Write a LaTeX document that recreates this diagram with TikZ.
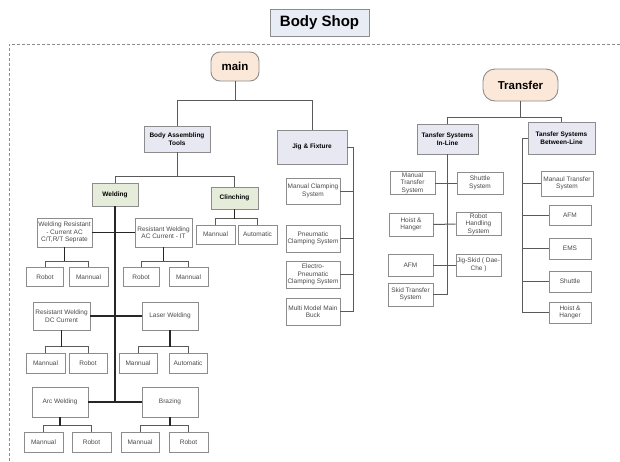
\documentclass[tikz,border=0pt]{standalone}
\usepackage{fontspec}
\setmainfont{Liberation Sans}
\definecolor{peach}{HTML}{FBE8D8}
\definecolor{lavender}{HTML}{E8E8F3}
\definecolor{sage}{HTML}{E5ECD9}
\definecolor{titlefill}{HTML}{E8ECF4}
\definecolor{boxline}{HTML}{8C8C8C}
\definecolor{linkgray}{HTML}{5A5A5A}
\definecolor{leaftext}{HTML}{4A4A4A}

\begin{document}
\begin{tikzpicture}[
    x=1pt, y=-1pt,
    every node/.style={align=center, inner sep=1pt},
    sz/.style 2 args={minimum width=#1pt, minimum height=#2pt},
    titlebox/.style={
      draw=boxline,
      line width=0.9pt,
      fill=titlefill,
      font=\fontsize{15}{17}\selectfont\bfseries
    },
    rootbox/.style={
      draw=boxline,
      line width=0.9pt,
      fill=peach,
      rounded corners=9pt,
      font=\fontsize{11.5}{13}\selectfont\bfseries
    },
    catbox/.style={
      draw=boxline,
      line width=0.8pt,
      fill=lavender,
      font=\fontsize{6.5}{7.8}\selectfont\bfseries
    },
    weldbox/.style={catbox, fill=sage},
    leafbox/.style={
      draw=boxline,
      line width=0.8pt,
      fill=white,
      text=leaftext,
      font=\fontsize{6.5}{7.5}\selectfont
    },
    link/.style={draw=linkgray, line width=1pt},
    boldlink/.style={draw=black!85, line width=1.5pt}
  ]
  \useasboundingbox (0,0) rectangle (620,461);

  % Title and frame
  \node[titlebox, sz={99}{27}] (title) at (319.5,22.5) {Body Shop};
  \draw[boxline, line width=0.8pt, dash pattern=on 3pt off 2pt]
    (9,461) -- (9,44) -- (620,44);

  % main
  \node[rootbox, sz={48}{29}] (main) at (235,66.5) {main};
  \node[catbox, sz={66}{26}] (body) at (177,139) {Body Assembling\\Tools};
  \node[catbox, sz={70}{34}] (jig) at (312,147) {Jig \& Fixture};
  \draw[link] (main.south) -- ++(0,19) coordinate (mainbus);
  \draw[link] (body.north) |- (mainbus) -| (jig.north);

  % Body Assembling Tools
  \node[weldbox, sz={46}{23}] (weld) at (115,194.5) {Welding};
  \node[weldbox, sz={47}{22}] (clinch) at (234.5,198) {Clinching};
  \draw[link] (body.south) -- ++(0,24) coordinate (bodybus);
  \draw[link] (weld.north) |- (bodybus) -| (clinch.north);

  % Welding
  \node[leafbox, sz={55}{29}] (wr) at (64.5,232.5) {Welding Resistant\\- Current AC\\C/T,R/T Seprate};
  \node[leafbox, sz={57}{29}] (rwac) at (163.5,232.5) {Resistant Welding\\AC Current - IT};
  \node[leafbox, sz={57}{28}] (rwdc) at (61.5,316) {Resistant Welding\\DC Current};
  \node[leafbox, sz={56}{28}] (laser) at (170,316) {Laser Welding};
  \node[leafbox, sz={56}{30}] (arc) at (60,402) {Arc Welding};
  \node[leafbox, sz={56}{30}] (braz) at (170,402) {Brazing};

  \node[leafbox, sz={37}{19}] (wr1) at (45,277) {Robot};
  \node[leafbox, sz={39}{19}] (wr2) at (88.5,277) {Mannual};
  \node[leafbox, sz={36}{19}] (rwac1) at (141,277) {Robot};
  \node[leafbox, sz={39}{19}] (rwac2) at (188.5,277) {Mannual};
  \node[leafbox, sz={39}{20}] (rwdc1) at (45.5,363) {Mannual};
  \node[leafbox, sz={38}{20}] (rwdc2) at (88,363) {Robot};
  \node[leafbox, sz={38}{20}] (laser1) at (138,363) {Mannual};
  \node[leafbox, sz={38}{20}] (laser2) at (188,363) {Automatic};
  \node[leafbox, sz={39}{20}] (arc1) at (43.5,442) {Mannual};
  \node[leafbox, sz={39}{20}] (arc2) at (91.5,442) {Robot};
  \node[leafbox, sz={38}{20}] (braz1) at (140,442) {Mannual};
  \node[leafbox, sz={39}{20}] (braz2) at (188.5,442) {Robot};

  \draw[boldlink] (weld.south) -- (weld.south |- arc.east);
  \draw[boldlink] (wr.east) -- (rwac.west);
  \draw[boldlink] (rwdc.east) -- (laser.west);
  \draw[boldlink] (arc.east) -- (braz.west);

  % Clinching
  \node[leafbox, sz={39}{19}] (clinch1) at (215.5,234.5) {Mannual};
  \node[leafbox, sz={39}{19}] (clinch2) at (257.5,234.5) {Automatic};

  \foreach \p/\a/\b in {wr/wr1/wr2, rwac/rwac1/rwac2, rwdc/rwdc1/rwdc2,
      laser/laser1/laser2, arc/arc1/arc2, braz/braz1/braz2,
      clinch/clinch1/clinch2} {
    \draw[link] (\a.north) -- ++(0,-6) coordinate (\p bus) -| (\b.north);
    \draw[boldlink] (\p.south) -- (\p.south |- \p bus);
  }

  % Jig & Fixture
  \node[leafbox, sz={54}{26}] (jig1) at (313,191) {Manual Clamping\\System};
  \node[leafbox, sz={54}{27}] (jig2) at (313,238.5) {Pneumatic\\Clamping System};
  \node[leafbox, sz={54}{27}] (jig3) at (313,274.5) {Electro-\\Pneumatic\\Clamping System};
  \node[leafbox, sz={54}{27}] (jig4) at (313,311.5) {Multi Model Main\\Buck};
  \draw[link] (jig.east) -- ++(6,0) coordinate (jigrail) |- (jig4.east);
  \foreach \c in {jig1,jig2,jig3}
    \draw[link] (\c.east) -- (\c.east -| jigrail);

  % Transfer
  \node[rootbox, sz={75}{32}, rounded corners=12pt] (transfer) at (520.5,85) {Transfer};
  \node[catbox, sz={61}{30}] (inline) at (447.5,139) {Tansfer Systems\\In-Line};
  \node[catbox, sz={67}{32}] (between) at (561.5,138) {Tansfer Systems\\Between-Line};
  \draw[link] (transfer.south) -- ++(0,16) coordinate (trbus);
  \draw[link] (inline.north) |- (trbus) -| (between.north);

  % In-Line
  \node[leafbox, sz={45}{22}] (mts) at (412.5,183) {Manual\\Transfer\\System};
  \node[leafbox, sz={46}{22}] (shuttle) at (480,183) {Shuttle\\System};
  \node[leafbox, sz={44}{23}] (hoist) at (411,224.5) {Hoist \&\\Hanger};
  \node[leafbox, sz={45}{22}] (rhs) at (478.5,224) {Robot\\Handling\\System};
  \node[leafbox, sz={45}{22}] (afm) at (410.5,265) {AFM};
  \node[leafbox, sz={45}{22}] (jigskid) at (478.5,265) {Jig-Skid ( Dae-\\Che )};
  \node[leafbox, sz={45}{23}] (skid) at (410.5,294.5) {Skid Transfer\\System};
  \draw[link] (inline.south) |- (skid.east);
  \draw[link] (mts.east) -- (shuttle.west);
  \draw[link] (hoist.east) -- (rhs.west);
  \draw[link] (afm.east) -- (jigskid.west);

  % Between-Line
  \node[leafbox, sz={52}{25}] (bmts) at (567,183.5) {Manaul Transfer\\System};
  \node[leafbox, sz={42}{20}] (bafm) at (570,215) {AFM};
  \node[leafbox, sz={42}{21}] (bems) at (570,248.5) {EMS};
  \node[leafbox, sz={42}{21}] (bshut) at (570,281.5) {Shuttle};
  \node[leafbox, sz={42}{21}] (bhh) at (570,312.5) {Hoist \&\\Hanger};
  \draw[link] (between.west) -- ++(-5,0) coordinate (btrail) |- (bhh.west);
  \foreach \c in {bmts,bafm,bems,bshut}
    \draw[link] (\c.west) -- (\c.west -| btrail);
\end{tikzpicture}
\end{document}
